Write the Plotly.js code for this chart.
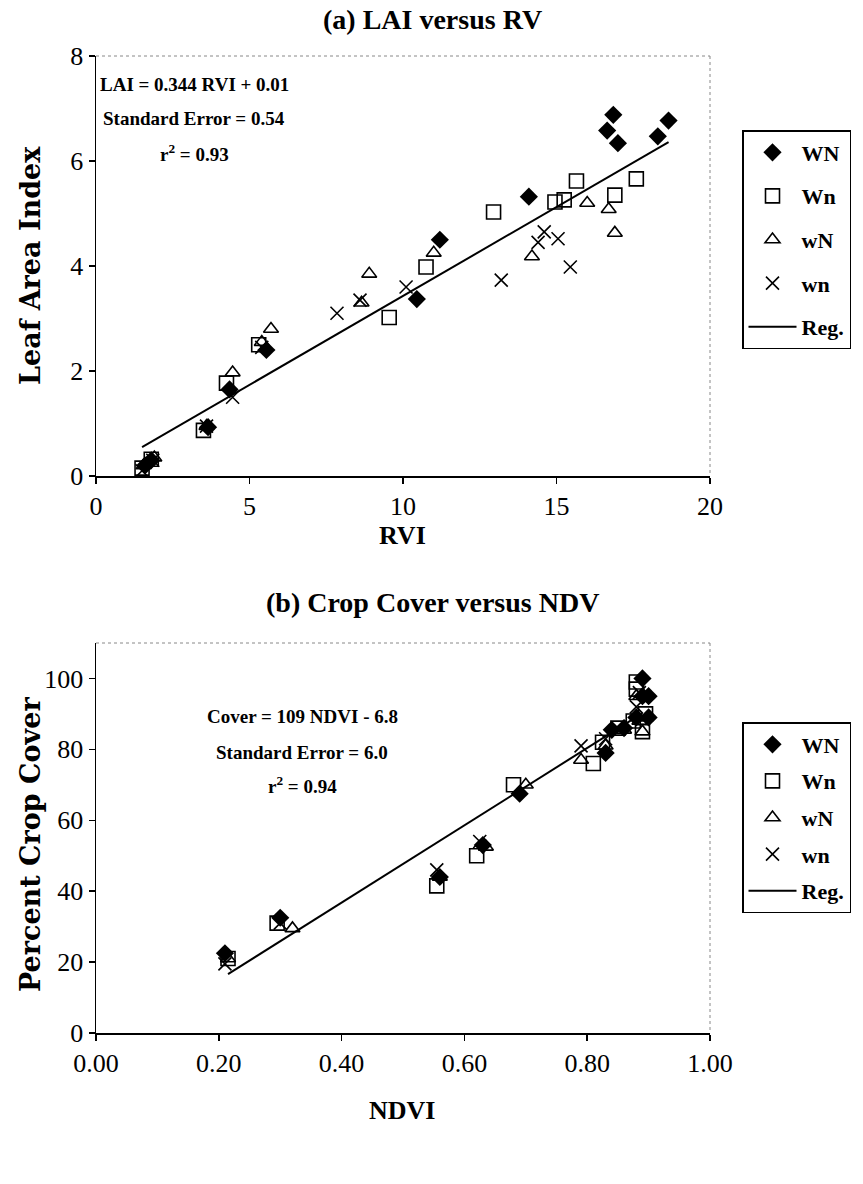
<!DOCTYPE html>
<html>
<head>
<meta charset="utf-8">
<script src="https://cdn.plot.ly/plotly-3.0.1.min.js"></script>
<style>html,body{margin:0;padding:0;background:#fff;}#chart{width:863px;height:1184px;}</style>
</head>
<body>
<div id="chart"></div>
<script>
// ---------- (a) LAI versus RVI ----------
const aWN_x = [1.6, 1.8, 3.65, 4.35, 5.55, 10.45, 11.2, 14.1, 16.65, 16.85, 17.0, 18.3, 18.65];
const aWN_y = [0.2, 0.3, 0.93, 1.65, 2.4, 3.37, 4.5, 5.32, 6.58, 6.88, 6.34, 6.47, 6.77];
const aWn_x = [1.5, 1.8, 3.5, 4.25, 5.3, 9.55, 10.75, 12.95, 14.95, 15.25, 15.65, 16.9, 17.6];
const aWn_y = [0.15, 0.32, 0.87, 1.77, 2.5, 3.02, 3.98, 5.03, 5.22, 5.26, 5.62, 5.35, 5.66];
const awN_x = [1.55, 1.9, 3.6, 4.45, 5.4, 5.7, 8.65, 8.9, 11.0, 14.2, 16.0, 16.7, 16.9];
const awN_y = [0.2, 0.35, 0.95, 1.97, 2.55, 2.8, 3.3, 3.85, 4.25, 4.18, 5.2, 5.08, 4.63];
const awn_x = [1.5, 1.85, 3.6, 4.45, 5.4, 7.85, 8.6, 10.1, 13.2, 14.4, 14.6, 15.05, 15.45];
const awn_y = [0.1, 0.3, 0.95, 1.5, 2.45, 3.1, 3.35, 3.6, 3.73, 4.45, 4.65, 4.52, 3.98];
const aReg_x = [1.5, 18.65];
const aReg_y = [0.55, 6.36];
const aTicksX = [0, 5, 10, 15, 20];
const aTicksY = [0, 2, 4, 6, 8];

// ---------- (b) Crop Cover versus NDVI ----------
const bWN_x = [0.21, 0.30, 0.56, 0.63, 0.69, 0.83, 0.84, 0.86, 0.88, 0.89, 0.89, 0.90, 0.90];
const bWN_y = [22.5, 32.5, 44, 53, 67.5, 79, 85.5, 86, 89, 100, 95, 95, 89];
const bWn_x = [0.215, 0.295, 0.555, 0.62, 0.68, 0.81, 0.825, 0.85, 0.875, 0.88, 0.88, 0.89, 0.895];
const bWn_y = [21, 31, 41.5, 50, 70, 76, 82, 86, 88, 97, 99, 85, 90];
const bwN_x = [0.215, 0.32, 0.56, 0.635, 0.70, 0.79, 0.83, 0.86, 0.885, 0.89, 0.88];
const bwN_y = [21, 29.5, 44, 52.5, 70, 77, 81, 85.5, 88, 85, 95];
const bwn_x = [0.21, 0.30, 0.555, 0.625, 0.79, 0.83, 0.88, 0.885];
const bwn_y = [19.5, 31, 46, 54, 81, 83, 92, 96];
const bReg_x = [0.215, 0.89];
const bReg_y = [16.6, 90.2];
const bTicksX = [0, 0.2, 0.4, 0.6, 0.8, 1.0];
const bTickTextX = ["0.00", "0.20", "0.40", "0.60", "0.80", "1.00"];
const bTicksY = [0, 20, 40, 60, 80, 100];

const names = ["WN", "Wn", "wN", "wn", "Reg."];

const W = 863, H = 1184;
const px = v => v / W;
const py = v => 1 - v / H;
const SERIF = "Liberation Serif, Times New Roman, serif";
const WIDE = "DejaVu Serif, serif";

function sets(xa, ya, leg, data) {
  const syms = ["diamond", "square-open", "triangle-up-open", "x-thin-open"];
  const sizes = [14, 14, 13, 13];
  const out = [];
  data.forEach((d, i) => {
    const m = {symbol: syms[i], size: sizes[i], color: "black",
      line: {color: "black", width: i === 0 ? 0 : 1.6}};
    out.push({type: "scatter", mode: "markers", x: d[0], y: d[1], name: names[i],
      xaxis: xa, yaxis: ya, legend: leg, legendgroup: leg + i, marker: m});
  });
  return out;
}

const traces = []
  .concat(sets("x", "y", "legend", [[aWN_x, aWN_y], [aWn_x, aWn_y], [awN_x, awN_y], [awn_x, awn_y]]))
  .concat([{type: "scatter", mode: "lines", x: aReg_x, y: aReg_y, name: names[4], xaxis: "x", yaxis: "y",
    legend: "legend", legendgroup: "legend4", line: {color: "black", width: 2}}])
  .concat(sets("x2", "y2", "legend2", [[bWN_x, bWN_y], [bWn_x, bWn_y], [bwN_x, bwN_y], [bwn_x, bwn_y]]))
  .concat([{type: "scatter", mode: "lines", x: bReg_x, y: bReg_y, name: names[4], xaxis: "x2", yaxis: "y2",
    legend: "legend2", legendgroup: "legend24", line: {color: "black", width: 2}}]);

const axBase = {showgrid: false, zeroline: false, showline: true, linecolor: "black", linewidth: 1.5,
  ticks: "outside", ticklen: 6, tickcolor: "black", tickwidth: 1.5,
  tickfont: {family: SERIF, size: 26, color: "black"}, fixedrange: true};

const legBase = {font: {family: SERIF, size: 22, color: "black", weight: "bold"},
  bordercolor: "black", borderwidth: 1.5, bgcolor: "white", xanchor: "left", yanchor: "top",
  itemwidth: 48};

function ann(text, x, y, size, bold, extra, fam) {
  return Object.assign({xref: "paper", yref: "paper", x: px(x), y: py(y), text: text, showarrow: false,
    xanchor: "center", yanchor: "middle",
    font: {family: fam || SERIF, size: size, color: "black", weight: bold ? "bold" : "normal"}}, extra || {});
}

const layout = {
  width: W, height: H, margin: {l: 0, r: 0, t: 0, b: 0},
  paper_bgcolor: "white", plot_bgcolor: "white", showlegend: true,
  xaxis: Object.assign({}, axBase, {domain: [px(96), px(710)], range: [0, 20], tickvals: aTicksX, anchor: "y"}),
  yaxis: Object.assign({}, axBase, {domain: [py(476), py(56)], range: [0, 8], tickvals: aTicksY, anchor: "x"}),
  xaxis2: Object.assign({}, axBase, {domain: [px(96), px(710)], range: [0, 1], tickvals: bTicksX, ticktext: bTickTextX, anchor: "y2"}),
  yaxis2: Object.assign({}, axBase, {domain: [py(1033), py(643)], range: [0, 110], tickvals: bTicksY, anchor: "x2"}),
  legend: Object.assign({}, legBase, {x: px(742), y: py(130), tracegroupgap: 12}),
  legend2: Object.assign({}, legBase, {x: px(742), y: py(722), tracegroupgap: 5}),
  shapes: [
    {type: "line", xref: "paper", yref: "paper", x0: px(96), x1: px(710), y0: py(56), y1: py(56), line: {color: "#888", width: 1, dash: "dot"}},
    {type: "line", xref: "paper", yref: "paper", x0: px(710), x1: px(710), y0: py(56), y1: py(476), line: {color: "#888", width: 1, dash: "dot"}},
    {type: "line", xref: "paper", yref: "paper", x0: px(96), x1: px(710), y0: py(643), y1: py(643), line: {color: "#888", width: 1, dash: "dot"}},
    {type: "line", xref: "paper", yref: "paper", x0: px(710), x1: px(710), y0: py(643), y1: py(1033), line: {color: "#888", width: 1, dash: "dot"}}
  ],
  annotations: [
    ann("(a) LAI versus RV", 432, 20, 28, true),
    ann("LAI = 0.344 RVI + 0.01", 194, 84, 19, true),
    ann("Standard Error = 0.54", 194, 118, 19, true),
    ann("r<sup>2</sup> = 0.93", 194, 153, 19, true),
    ann("RVI", 402, 535, 26, true),
    ann("Leaf Area Index", 30, 266, 27, true, {textangle: -90}, WIDE),
    ann("(b) Crop Cover versus NDV", 432, 602, 28, true),
    ann("Cover = 109 NDVI - 6.8", 302, 716, 19, true),
    ann("Standard Error = 6.0", 302, 752, 19, true),
    ann("r<sup>2</sup> = 0.94", 302, 785, 19, true),
    ann("NDVI", 402, 1110, 26, true),
    ann("Percent Crop Cover", 30, 845, 27, true, {textangle: -90}, WIDE)
  ]
};

Plotly.newPlot("chart", traces, layout, {displayModeBar: false, staticPlot: true});
</script>
</body>
</html>
